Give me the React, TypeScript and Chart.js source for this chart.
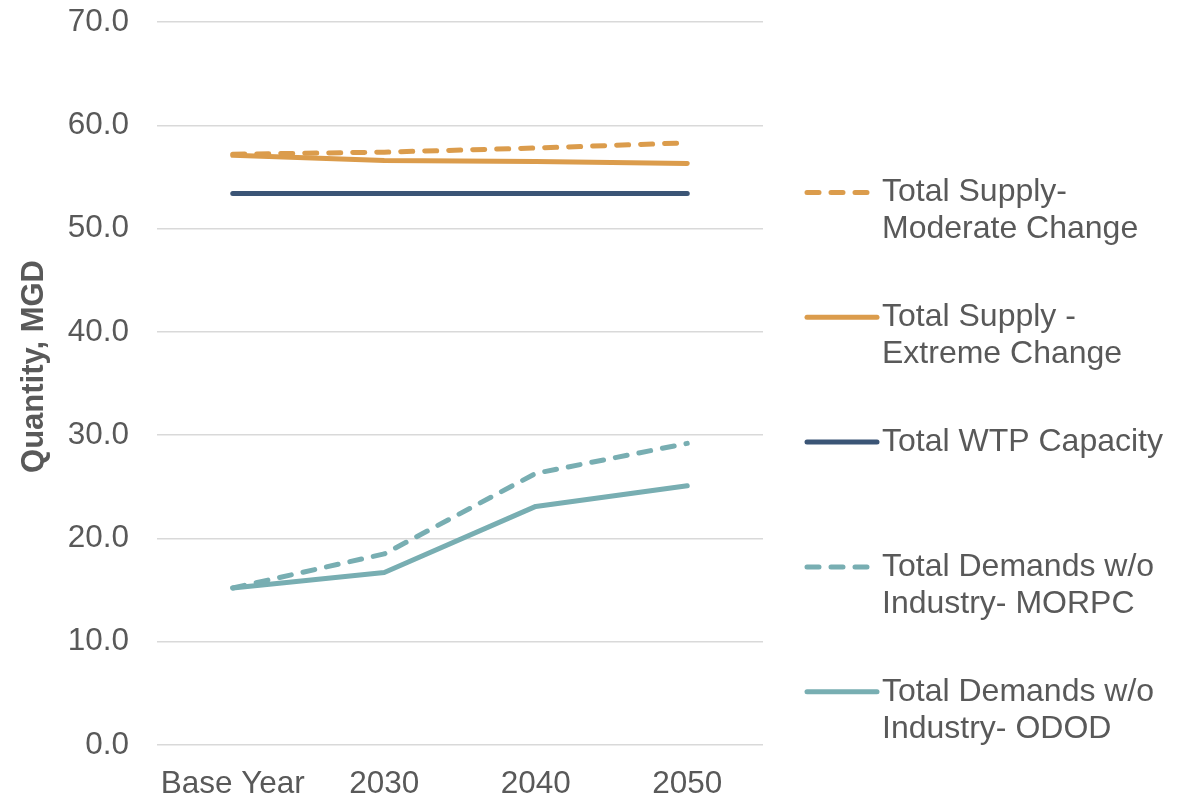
import React, { useEffect, useRef } from "react";
import { Chart, registerables } from "chart.js";

Chart.register(...registerables);

const categories = ["Base Year", "2030", "2040", "2050"];
const supplyModerate = [57.2, 57.4, 57.8, 58.3];
const supplyExtreme = [57.1, 56.6, 56.5, 56.3];
const wtpCapacity = [53.4, 53.4, 53.4, 53.4];
const demandsMorpc = [15.2, 18.5, 26.3, 29.2];
const demandsOdod = [15.2, 16.7, 23.1, 25.1];
const legendLines = [
  ["Total Supply-", "Moderate Change"],
  ["Total Supply -", "Extreme Change"],
  ["Total WTP Capacity"],
  ["Total Demands w/o", "Industry- MORPC"],
  ["Total Demands w/o", "Industry- ODOD"],
];
const yTitle = "Quantity, MGD";

const ORANGE = "#DB9C4C";
const NAVY = "#3B5576";
const TEAL = "#78AEB2";
const TEXT = "#595959";
const FONT = "'Liberation Sans', Arial, sans-serif";
const DASH = [12, 12];

export default function App() {
  const ref = useRef<HTMLCanvasElement | null>(null);

  useEffect(() => {
    if (!ref.current) return;

    const legendPlugin = {
      id: "customLegend",
      afterDraw(chart: any) {
        const { ctx, chartArea } = chart;
        ctx.save();
        // y-axis title
        ctx.font = `bold 31px ${FONT}`;
        ctx.fillStyle = TEXT;
        ctx.textAlign = "center";
        ctx.textBaseline = "middle";
        ctx.translate(34, (chartArea.top + chartArea.bottom) / 2 - 17);
        ctx.rotate(-Math.PI / 2);
        ctx.fillText(yTitle, 0, 0);
        ctx.restore();

        ctx.save();
        const x0 = chartArea.right + 44;
        const textX = chartArea.right + 119;
        const startY = chartArea.top + 170.5;
        const step = 124.8;
        const lineH = 37;
        chart.data.datasets.forEach((ds: any, i: number) => {
          const y = startY + i * step;
          ctx.beginPath();
          ctx.lineWidth = 5;
          ctx.lineCap = "round";
          ctx.strokeStyle = ds.borderColor;
          ctx.setLineDash(ds.borderDash || []);
          ctx.moveTo(x0, y);
          ctx.lineTo(ds.borderDash ? x0 + 64 : x0 + 70, y);
          ctx.stroke();
          ctx.setLineDash([]);
          ctx.font = `32px ${FONT}`;
          ctx.fillStyle = TEXT;
          ctx.textAlign = "left";
          ctx.textBaseline = "middle";
          legendLines[i].forEach((t, j) => ctx.fillText(t, textX, y + j * lineH));
        });
        ctx.restore();
      },
    };

    const mk = (label: string, data: number[], color: string, dashed: boolean) => ({
      label,
      data,
      borderColor: color,
      backgroundColor: color,
      borderWidth: 5,
      borderCapStyle: "round",
      borderJoinStyle: "round",
      borderDash: dashed ? DASH : undefined,
      pointRadius: 0,
      pointHoverRadius: 0,
      fill: false,
      tension: 0,
    });

    const chart = new Chart(ref.current, {
      type: "line",
      data: {
        labels: categories,
        datasets: [
          mk("Total Supply- Moderate Change", supplyModerate, ORANGE, true),
          mk("Total Supply - Extreme Change", supplyExtreme, ORANGE, false),
          mk("Total WTP Capacity", wtpCapacity, NAVY, false),
          mk("Total Demands w/o Industry- MORPC", demandsMorpc, TEAL, true),
          mk("Total Demands w/o Industry- ODOD", demandsOdod, TEAL, false),
        ] as any,
      },
      options: {
        animation: false,
        responsive: true,
        maintainAspectRatio: false,
        layout: { padding: { left: 0, top: 22, right: 418, bottom: 0 } },
        plugins: {
          legend: { display: false },
          tooltip: { enabled: false },
        },
        scales: {
          x: {
            offset: true,
            grid: { display: false, drawTicks: false },
            border: { display: false },
            ticks: {
              color: TEXT,
              font: { family: FONT, size: 31.5 },
              padding: 20,
              maxRotation: 0,
              autoSkip: false,
            },
            afterFit(scale: any) {
              scale.height = 53;
              scale.paddingLeft = 0;
              scale.paddingRight = 0;
            },
          },
          y: {
            min: 0,
            max: 70,
            grid: { color: "#D9D9D9", lineWidth: 1.5, drawTicks: false },
            border: { display: false },
            ticks: {
              stepSize: 10,
              color: TEXT,
              font: { family: FONT, size: 31.5 },
              padding: 28,
              callback: (v: any) => Number(v).toFixed(1),
            },
            afterFit(scale: any) {
              scale.width = 157;
              scale.paddingTop = 0;
              scale.paddingBottom = 0;
            },
          },
        },
      } as any,
      plugins: [legendPlugin],
    });
    return () => chart.destroy();
  }, []);

  return (
    <div style={{ position: "fixed", left: 0, top: 0, width: 1181, height: 798, background: "#fff" }}>
      <canvas ref={ref} />
    </div>
  );
}
